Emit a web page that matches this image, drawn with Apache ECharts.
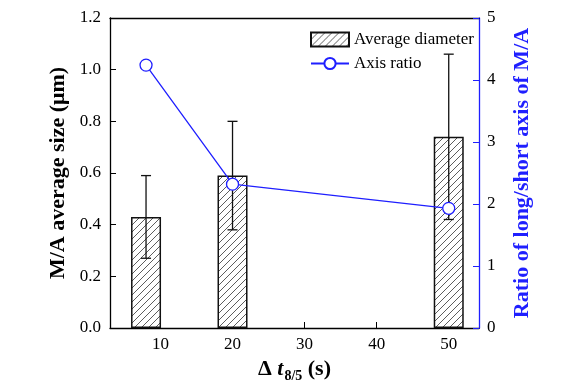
<!DOCTYPE html>
<html lang="en">
<head>
    <meta charset="UTF-8">
    <title>M/A size and axis ratio</title>
    <script src="https://cdn.jsdelivr.net/npm/echarts@6/dist/echarts.min.js"></script>
</head>
<body style="margin:0;background:#fff;">
<div id="chart" style="width:570px;height:391px;"></div>
<script>
    // data
    var tValues = [8, 20, 50];
    var avgDiameter = [0.43, 0.59, 0.74];
    var diameterErr = [0.16, 0.21, 0.32];
    var axisRatio = [4.24, 2.32, 1.93];
    var xTicks = [10, 20, 30, 40, 50];

    var blue = '#1f1fff';
    var font = '"Liberation Serif", "Times New Roman", serif';

    // hatch pattern for the bars
    var hatch = document.createElement('canvas');
    hatch.width = 7;
    hatch.height = 7;
    var hc = hatch.getContext('2d');
    hc.fillStyle = '#fff';
    hc.fillRect(0, 0, 7, 7);
    hc.strokeStyle = '#333';
    hc.lineWidth = 0.8;
    hc.beginPath();
    hc.moveTo(0, 7); hc.lineTo(7, 0);
    hc.moveTo(-1, 1); hc.lineTo(1, -1);
    hc.moveTo(6, 8); hc.lineTo(8, 6);
    hc.stroke();

    var barData = [], errData = [], lineData = [];
    for (var i = 0; i < tValues.length; i++) {
        barData.push([tValues[i], avgDiameter[i]]);
        errData.push([tValues[i], avgDiameter[i] - diameterErr[i], avgDiameter[i] + diameterErr[i]]);
        lineData.push([tValues[i], axisRatio[i]]);
    }

    var myChart = echarts.init(document.getElementById('chart'));
    var option = {
        animation: false,
        textStyle: { fontFamily: font },
        grid: { left: 110, right: 91, top: 18, bottom: 63 },
        legend: {
            orient: 'vertical',
            left: 305,
            top: 26,
            itemWidth: 38,
            itemHeight: 14,
            itemGap: 7,
            textStyle: { fontFamily: font, fontSize: 17, color: '#000' },
            data: [{ name: 'Average diameter', icon: 'rect' }, { name: 'Axis ratio' }]
        },
        xAxis: [{
            type: 'value',
            min: 3,
            max: 54.2,
            splitLine: { show: false },
            axisLine: { onZero: false, lineStyle: { color: '#000', width: 1.3 } },
            axisTick: { inside: true, length: 6, customValues: xTicks, lineStyle: { color: '#000' } },
            axisLabel: { customValues: xTicks, fontSize: 17, color: '#000', margin: 8, fontFamily: font },
            name: '{a|Δ }{b|t}{c|8/5}{a| (s)}',
            nameLocation: 'middle',
            nameGap: 25,
            nameTextStyle: {
                rich: {
                    a: { fontSize: 22, fontWeight: 'bold', fontFamily: font, color: '#000' },
                    b: { fontSize: 22, fontWeight: 'bold', fontStyle: 'italic', fontFamily: font, color: '#000' },
                    c: { fontSize: 14, fontWeight: 'bold', fontFamily: font, color: '#000', padding: [15, 0, 0, 1] }
                }
            }
        }, {
            type: 'value',
            position: 'top',
            min: 3,
            max: 54.2,
            splitLine: { show: false },
            axisLine: { show: true, onZero: false, lineStyle: { color: '#000', width: 1.3 } },
            axisTick: { show: false },
            axisLabel: { show: false }
        }],
        yAxis: [{
            type: 'value',
            min: 0,
            max: 1.2,
            interval: 0.2,
            splitLine: { show: false },
            axisLine: { show: true, onZero: false, lineStyle: { color: '#000', width: 1.3 } },
            axisTick: { show: true, inside: true, length: 6, lineStyle: { color: '#000' } },
            axisLabel: {
                fontSize: 17, color: '#000', margin: 9, fontFamily: font,
                formatter: function (v) { return v.toFixed(1); }
            },
            name: 'M/A average size (μm)',
            nameLocation: 'middle',
            nameGap: 38,
            nameTextStyle: { fontSize: 22, fontWeight: 'bold', color: '#000', fontFamily: font }
        }, {
            type: 'value',
            min: 0,
            max: 5,
            interval: 1,
            position: 'right',
            splitLine: { show: false },
            axisLine: { show: true, onZero: false, lineStyle: { color: blue, width: 1.3 } },
            axisTick: { show: true, inside: true, length: 6, lineStyle: { color: blue } },
            axisLabel: { fontSize: 17, color: '#000', margin: 8, fontFamily: font },
            name: 'Ratio of long/short axis of M/A',
            nameLocation: 'middle',
            nameGap: 32,
            nameTextStyle: { fontSize: 22, fontWeight: 'bold', color: blue, fontFamily: font }
        }],
        series: [
            {
                name: 'Average diameter',
                type: 'bar',
                barWidth: 30,
                data: barData,
                itemStyle: {
                    color: { image: hatch, repeat: 'repeat' },
                    borderColor: '#111',
                    borderWidth: 1.5
                },
                z: 2
            },
            {
                name: 'err',
                type: 'custom',
                data: errData,
                encode: { x: 0, y: [1, 2] },
                renderItem: function (params, api) {
                    var x = api.value(0);
                    var lo = api.coord([x, api.value(1)]);
                    var hi = api.coord([x, api.value(2)]);
                    var cap = 5;
                    var style = { stroke: '#111', lineWidth: 1.3 };
                    return {
                        type: 'group',
                        children: [
                            { type: 'line', shape: { x1: lo[0], y1: lo[1], x2: hi[0], y2: hi[1] }, style: style },
                            { type: 'line', shape: { x1: lo[0] - cap, y1: lo[1], x2: lo[0] + cap, y2: lo[1] }, style: style },
                            { type: 'line', shape: { x1: hi[0] - cap, y1: hi[1], x2: hi[0] + cap, y2: hi[1] }, style: style }
                        ]
                    };
                },
                z: 3
            },
            {
                name: 'Axis ratio',
                type: 'line',
                yAxisIndex: 1,
                data: lineData,
                symbol: 'circle',
                symbolSize: 12,
                lineStyle: { color: blue, width: 1.3 },
                itemStyle: { color: '#fff', borderColor: blue, borderWidth: 1.3 },
                z: 4
            }
        ]
    };
    myChart.setOption(option);
</script>
</body>
</html>
